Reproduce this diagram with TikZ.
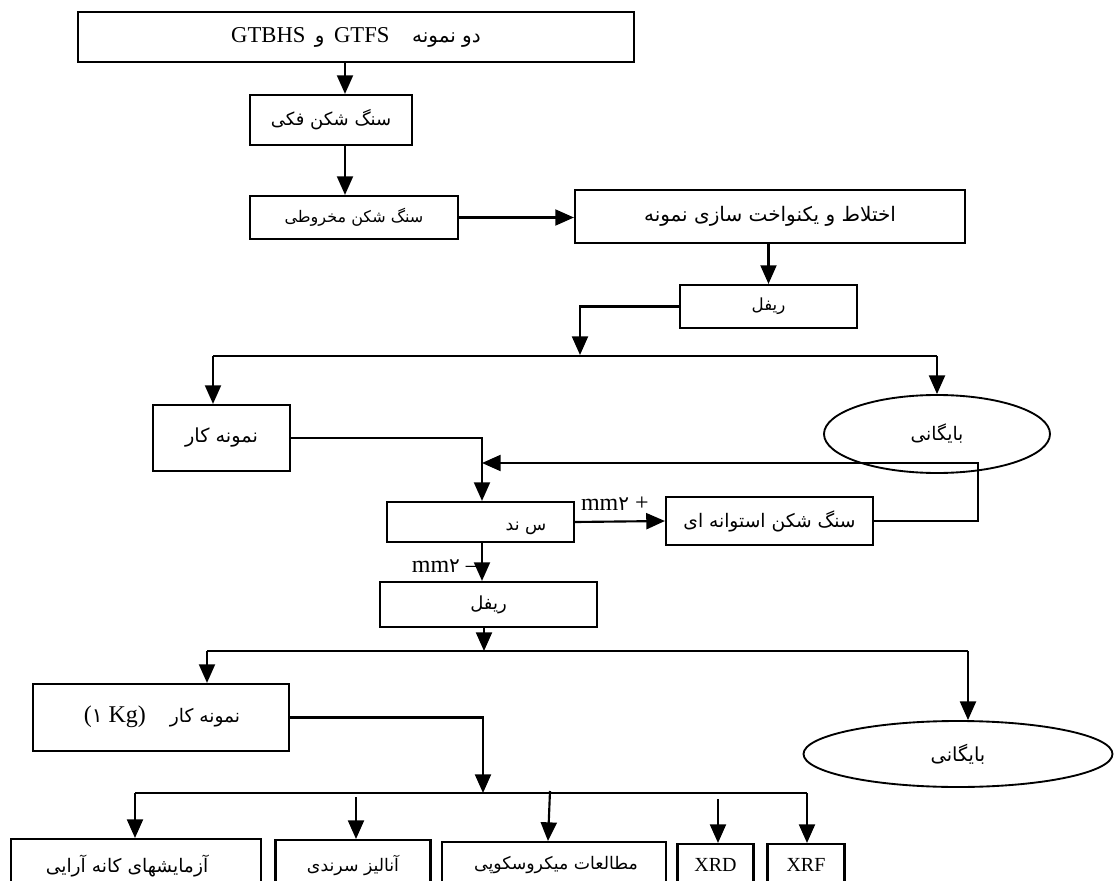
\documentclass[tikz,border=0pt]{standalone}
\usepackage{fontspec}
\setmainfont{Liberation Serif}
\newfontfamily\ar[Script=Arabic]{DejaVu Sans}
\TeXXeTstate=1
\usetikzlibrary{arrows.meta,shapes.geometric}
\newcommand{\fa}[1]{{\ar\beginR #1\endR}}
\newcommand{\fs}[1]{\fontsize{#1}{#1}\selectfont}
\begin{document}
\begin{tikzpicture}[x=0.75pt,y=-0.75pt,
  line width=1.6pt,
  box/.style={draw, rectangle, inner sep=0pt, line width=1.6pt},
  oval/.style={draw, ellipse, inner sep=0pt, line width=1.4pt},
  sz/.style 2 args={minimum width=#1*0.75pt, minimum height=#2*0.75pt},
  arr/.style={-{Triangle[length=14pt,width=12pt]}},
  txt/.style={inner sep=0pt}
]
\useasboundingbox (0,0) rectangle (1115,881);
\clip (0,0) rectangle (1115,881);

% boxes
\node[box, sz={556}{50}] (b1) at (356,37) {\fs{17}GTBHS \,{\fs{15}\fa{و}}\, GTFS\quad {\fs{15}\fa{دو نمونه}}};
\node[box, sz={162}{50}, font=\fs{13.5}] (b2) at (331,120) {\fa{سنگ شکن فکی}};
\node[box, sz={208}{43}, font=\fs{12}] (b3) at (354,217.5) {\fa{سنگ شکن مخروطی}};
\node[box, sz={390}{53}, font=\fs{15}] (b4) at (770,216.5) {\fa{اختلاط و  یکنواخت سازی نمونه}};
\node[box, sz={177}{43}, font=\fs{12.5}] (b5) at (768.5,306.5) {\fa{ریفل}};
\node[box, sz={137}{66}, font=\fs{14.5}] (b6) at (221.5,438) {\fa{نمونه کار}};
\node[oval, sz={226}{78}, font=\fs{14}] (e1) at (937,434) {\fa{بایگانی}};
\node[box, sz={187}{40}] (b7) at (480.5,522) {};
\node[txt, font=\fs{13}] (t7) at (526,528) {\fa{س ند}};
\node[box, sz={207}{48}, font=\fs{14}] (b8) at (769.5,521) {\fa{سنگ شکن استوانه ای}};
\node[box, sz={217}{45}, font=\fs{13.5}] (b9) at (488.5,604.5) {\fa{ریفل}};
\node[box, sz={256}{67}] (b10) at (161,717.5) {};
\node[txt] (t10) at (162,717) {\fs{18}({\fs{15}\ar ۱} Kg)\quad{\fs{14}\fa{نمونه کار}}};
\node[oval, sz={309}{66}, font=\fs{14.5}] (e2) at (958,754) {\fa{بایگانی}};

% bottom row
\node[box, sz={250}{60}, anchor=north] (r1) at (136,838) {};
\node[box, sz={155}{60}, anchor=north] (r2) at (353,839) {};
\node[box, sz={224}{60}, anchor=north] (r3) at (554,841) {};
\node[box, sz={76}{60}, anchor=north] (r4) at (715.5,843) {};
\node[box, sz={77}{60}, anchor=north] (r5) at (806,843) {};
\node[txt, font=\fs{14}] (s1) at (127,866) {\fa{آزمایشهای کانه آرایی}};
\node[txt, font=\fs{13}] (s2) at (353,865) {\fa{آنالیز سرندی}};
\node[txt, font=\fs{13}] (s3) at (556,865) {\fa{مطالعات میکروسکوپی}};
\node[txt, font=\fs{15}] (s4) at (715.5,865) {XRD};
\node[txt, font=\fs{15}] (s5) at (806,865) {XRF};

% coordinates
\coordinate (j1) at (580,355);
\coordinate (h1a) at (213,356);
\coordinate (h1b) at (937,356);
\coordinate (fb) at (482,463);
\coordinate (fr) at (978,463);
\coordinate (j2) at (484,651);
\coordinate (h2a) at (207,651);
\coordinate (h2b) at (968,651);
\coordinate (j3) at (483,793);
\coordinate (h3a) at (135,793);
\coordinate (h3b) at (807,793);
\coordinate (p2) at (356,797);
\coordinate (p3) at (550,791);
\coordinate (p4) at (718,799);
\coordinate (p5) at (807,793);

% connectors
\draw[arr] (b1.south -| 345,0) -- (b2.north -| 345,0);
\draw[arr] (b2.south -| 345,0) -- (b3.north -| 345,0);
\draw[arr] (b3.east) -- (b3.east -| b4.west);
\draw[arr] (b4.south -| b5.north) -- (b5.north);
\draw[arr] (b5.west) -| (j1);
\draw (h1a) -- (h1b);
\draw[arr] (h1a) -- (h1a |- b6.north);
\draw[arr] (h1b) -- (e1.north);
\draw[arr] (b6.east) -| (b7.north -| fb);
\draw[arr] (b8.east) -| (fr) -- (fb);
\draw[arr] (b7.east) -- (b8.west);
\node[txt, anchor=south west, font=\fs{18}] (l1) at (580,512) {mm{\fs{15}\ar ۲} +};
\draw[arr] (b7.south -| fb) -- (b9.north -| fb);
\node[txt, anchor=east, font=\fs{18}] (l2) at (479,566) {mm{\fs{15}\ar ۲} --};
\draw[arr] (b9.south -| j2) -- (j2);
\draw (h2a) -- (h2b);
\draw[arr] (h2a) -- (h2a |- b10.north);
\draw[arr] (h2b) -- (e2.north -| h2b);
\draw[arr] (b10.east) -| (j3);
\draw (h3a) -- (h3b);
\draw[arr] (h3a) -- (h3a |- r1.north);
\draw[arr] (p2) -- (p2 |- r2.north);
\draw[arr] (p3) -- (548,841);
\draw[arr] (p4) -- (p4 |- r4.north);
\draw[arr] (p5) -- (p5 |- r5.north);
\end{tikzpicture}
\end{document}
